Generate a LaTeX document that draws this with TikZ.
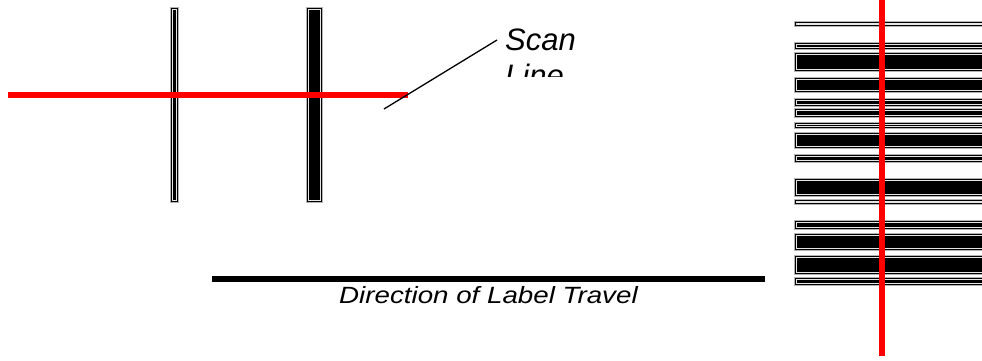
\documentclass[tikz,border=0pt]{standalone}
\usepackage{fontspec}
\usepackage{graphicx}
\setmainfont{Liberation Sans}
\newcommand\bcbar[4]{%
  \path[barfill] (#1,#2) rectangle (#3,#4);
  \path[barinner] (#1+2,#2+2) rectangle (#3-2,#4-2);
}
\begin{document}
\begin{tikzpicture}[x=1pt,y=-1pt,
  barfill/.style={fill=black,draw=gray!60,line width=1pt},
  barinner/.style={draw=white!80!gray,line width=0.7pt},
  redline/.style={draw=red,line width=6pt},
  pointer/.style={draw=black,line width=1.3pt},
  lbl/.style={font=\itshape, inner sep=0pt}]
\useasboundingbox (0,0) rectangle (982,360);
% left bars
\bcbar{170}{7}{178.5}{202}
\bcbar{306}{7}{322.5}{202}
% right bars
\bcbar{794}{21}{990}{26}
\bcbar{794}{42}{990}{49}
\bcbar{794}{52}{990}{71}
\bcbar{794}{77}{990}{92}
\bcbar{794}{98}{990}{106}
\bcbar{794}{108}{990}{117}
\bcbar{794}{122}{990}{128}
\bcbar{794}{132}{990}{148}
\bcbar{794}{154}{990}{162}
\bcbar{794}{178}{990}{196}
\bcbar{794}{199}{990}{204}
\bcbar{794}{220}{990}{229}
\bcbar{794}{233}{990}{250}
\bcbar{794}{255}{990}{274}
\bcbar{794}{277}{990}{285}
% scan lines
\coordinate (hs) at (8,95);
\coordinate (he) at (408,95);
\draw[redline] (hs) -- (he);
\coordinate (vs) at (882,0);
\coordinate (ve) at (882,356);
\draw[redline] (vs) -- (ve);
% label travel line
\coordinate (ts) at (212,279);
\coordinate (te) at (765,279);
\draw[line width=6pt] (ts) -- (te);
\node[lbl, anchor=base west, font=\itshape\fontsize{23.5}{28}\selectfont] (dir) at (339,303) {\scalebox{1.18}[1]{Direction of Label Travel}};
% scan label, clipped
\begin{scope}
  \clip (480,0) rectangle (700,76);
  \node[lbl, anchor=base west, align=left, font=\itshape\fontsize{31}{36}\selectfont] (scan) at (505,86) {Scan\\Line};
\end{scope}
\coordinate (pt) at (384,109);
\coordinate (pe) at (497,40);
\draw[pointer] (pt) -- (pe);
\end{tikzpicture}
\end{document}
